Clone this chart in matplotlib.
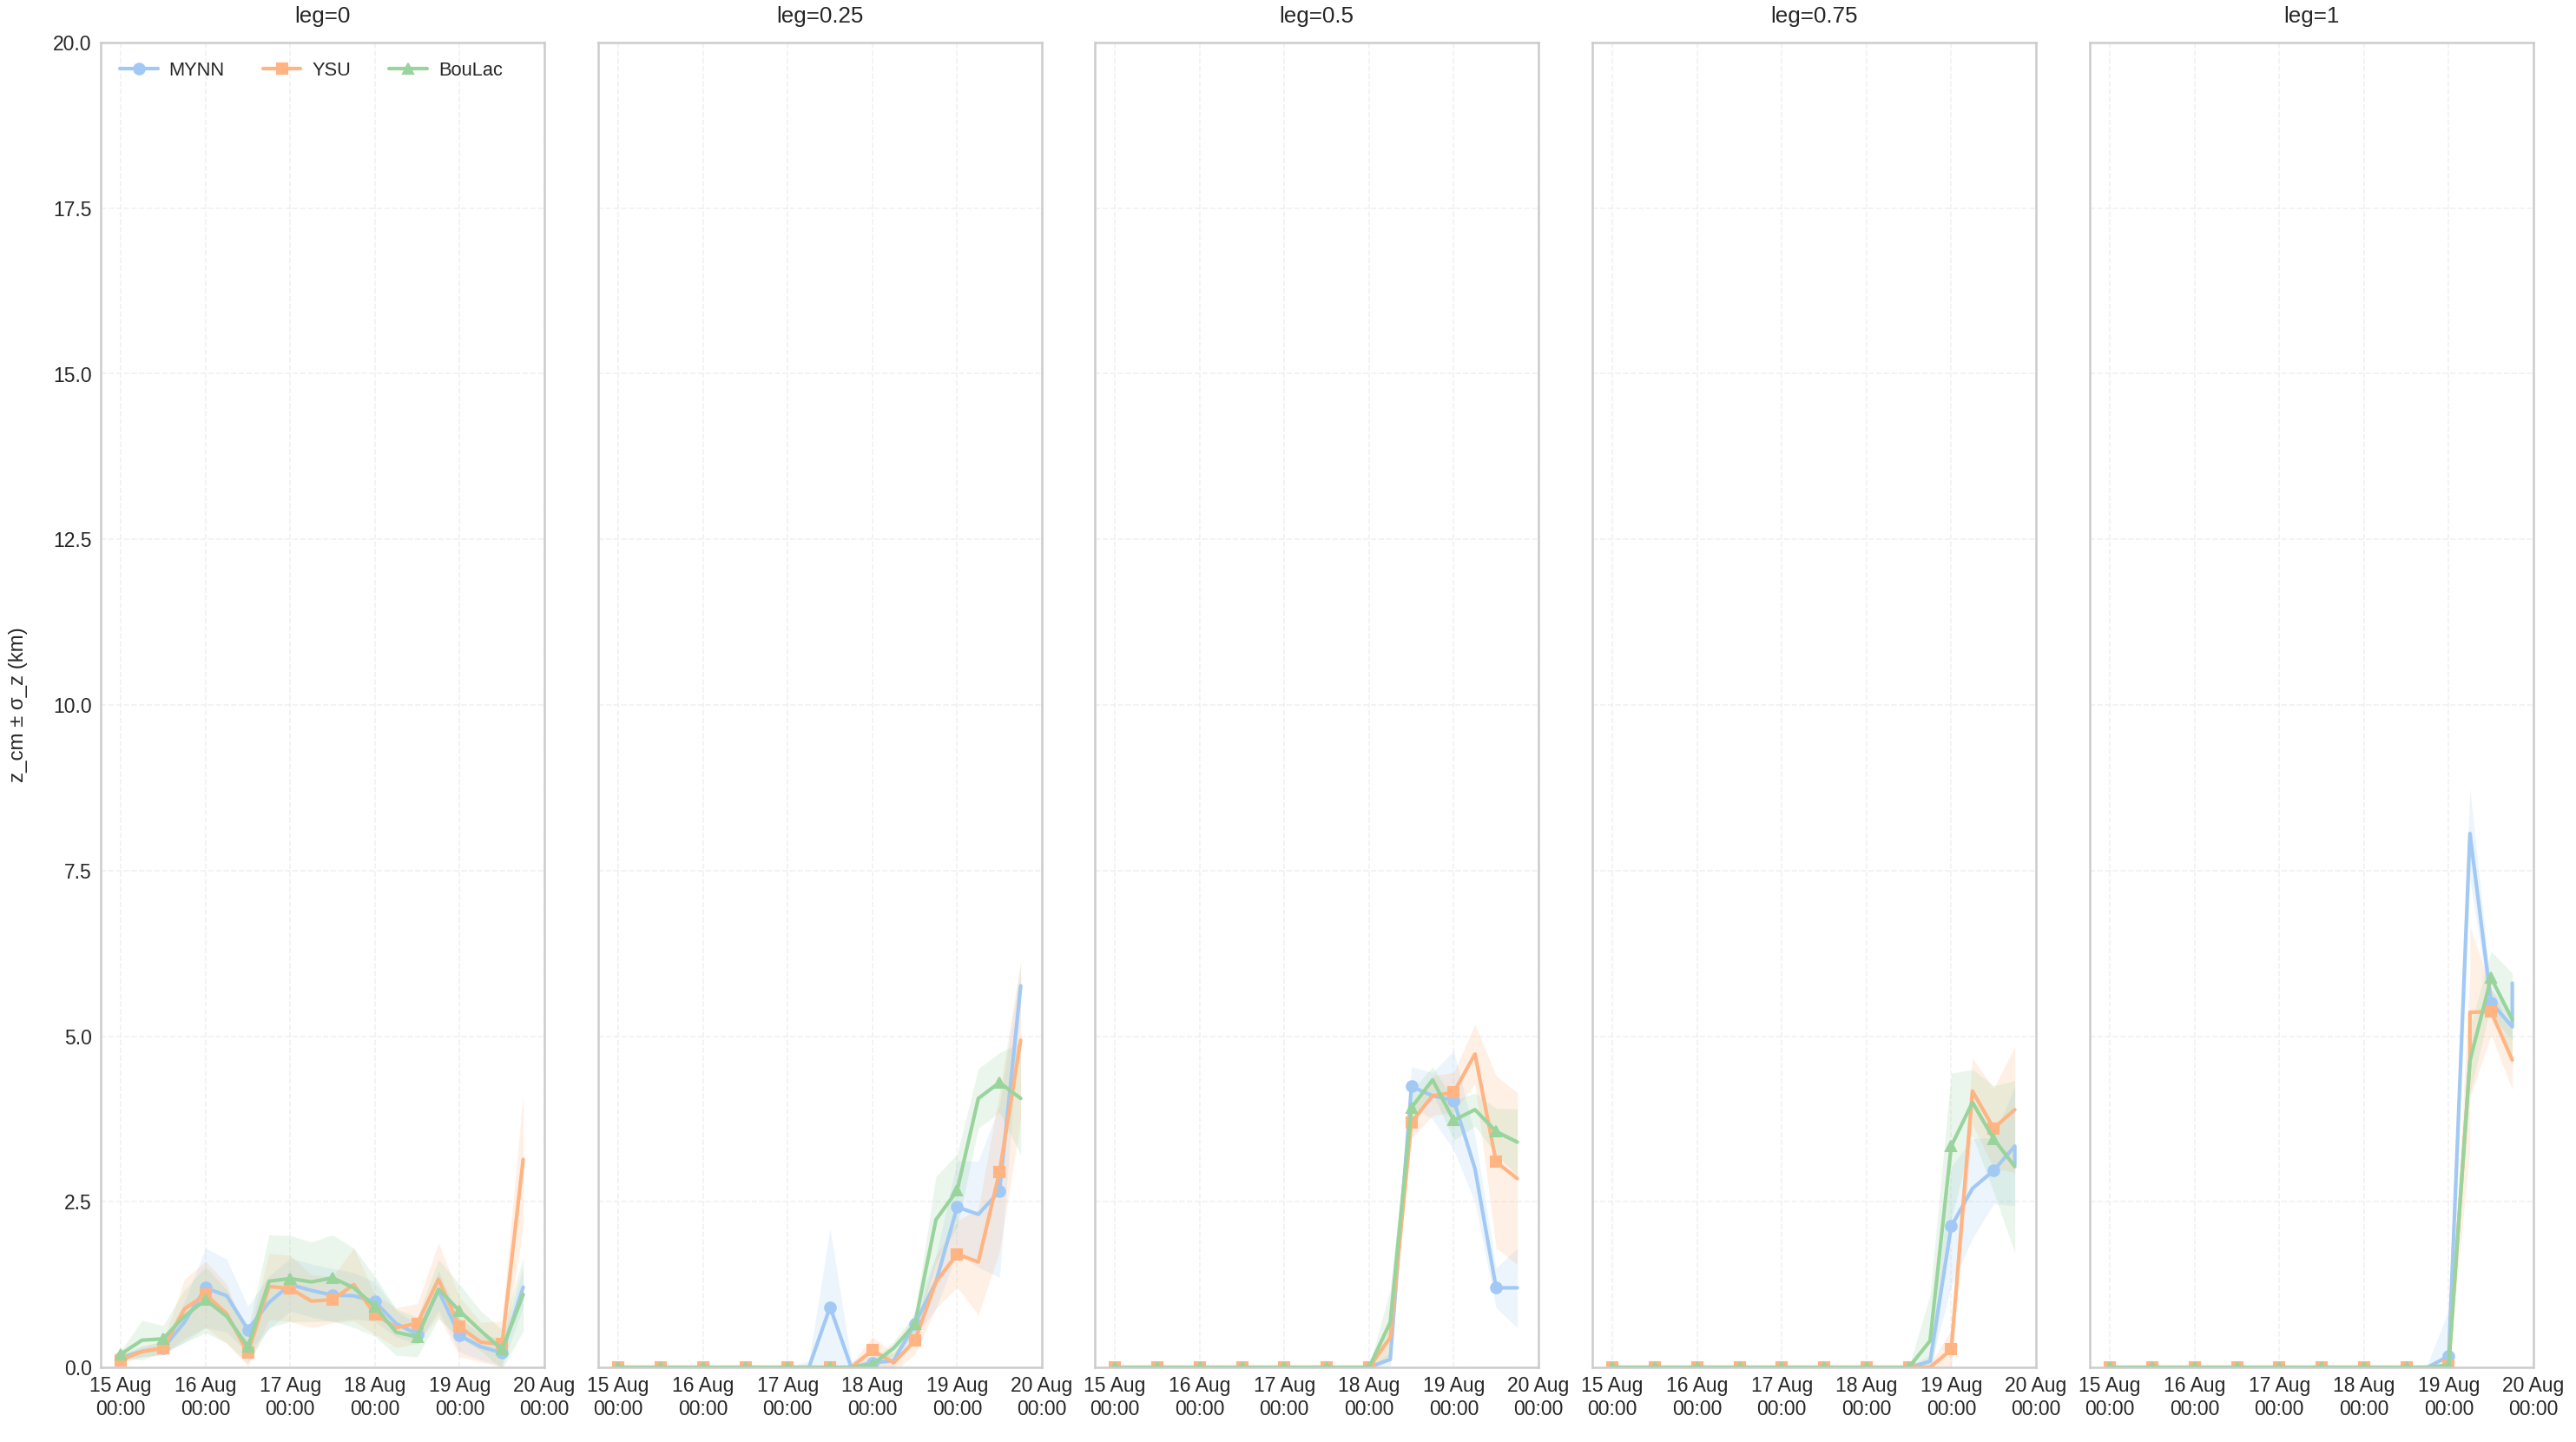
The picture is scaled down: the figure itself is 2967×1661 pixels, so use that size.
import numpy as np
import pandas as pd
import matplotlib
matplotlib.use("Agg")
import matplotlib.pyplot as plt
import matplotlib.dates as mdates
import seaborn as sns

sns.set_theme(style="whitegrid")
plt.rcParams['font.family'] = ['Liberation Sans', 'DejaVu Sans']

# ---------------- data ----------------
times = pd.date_range("2023-08-15 00:00", periods=20, freq="6h")
legs = ["leg=0", "leg=0.25", "leg=0.5", "leg=0.75", "leg=1"]
schemes = ["MYNN", "YSU", "BouLac"]

# leg=0
mynn_0 = [0.15, 0.24, 0.29, 0.68, 1.20, 1.08, 0.57, 0.98, 1.25, 1.16, 1.09, 1.08, 0.99, 0.66, 0.50, 1.16, 0.48, 0.31, 0.22, 1.21]
ysu_0 = [0.11, 0.24, 0.29, 0.88, 1.10, 0.81, 0.22, 1.22, 1.19, 1.00, 1.02, 1.25, 0.80, 0.60, 0.66, 1.33, 0.61, 0.38, 0.35, 3.14]
boulac_0 = [0.20, 0.41, 0.43, 0.77, 1.02, 0.77, 0.31, 1.30, 1.34, 1.29, 1.35, 1.20, 0.92, 0.53, 0.46, 1.18, 0.85, 0.55, 0.27, 1.10]
mynn_0_sd = [0.05, 0.08, 0.10, 0.30, 0.60, 0.55, 0.35, 0.40, 0.40, 0.40, 0.40, 0.35, 0.30, 0.20, 0.15, 0.30, 0.25, 0.20, 0.20, 0.30]
ysu_0_sd = [0.05, 0.08, 0.10, 0.45, 0.50, 0.45, 0.20, 0.50, 0.50, 0.40, 0.35, 0.55, 0.30, 0.30, 0.30, 0.55, 0.45, 0.30, 0.35, 1.00]
boulac_0_sd = [0.05, 0.30, 0.20, 0.40, 0.50, 0.40, 0.25, 0.70, 0.65, 0.60, 0.65, 0.60, 0.45, 0.35, 0.30, 0.45, 0.40, 0.30, 0.30, 0.55]

# leg=0.25
mynn_25 = [0, 0, 0, 0, 0, 0, 0, 0, 0, 0, 0.91, 0, 0.07, 0.10, 0.65, 1.29, 2.42, 2.31, 2.66, 5.76]
ysu_25 = [0, 0, 0, 0, 0, 0, 0, 0, 0, 0, 0, 0, 0.26, 0.07, 0.40, 1.29, 1.71, 1.59, 2.95, 4.94]
boulac_25 = [0, 0, 0, 0, 0, 0, 0, 0, 0, 0, 0, 0, 0.04, 0.29, 0.65, 2.23, 2.67, 4.06, 4.30, 4.06]
mynn_25_sd = [0, 0, 0, 0, 0, 0, 0, 0, 0, 0.10, 1.18, 0.10, 0.10, 0.10, 0.20, 0.40, 0.70, 0.80, 1.30, 0.30]
ysu_25_sd = [0, 0, 0, 0, 0, 0, 0, 0, 0, 0, 0, 0.05, 0.20, 0.15, 0.20, 0.40, 0.50, 0.80, 1.20, 1.20]
boulac_25_sd = [0, 0, 0, 0, 0, 0, 0, 0, 0, 0, 0, 0, 0.05, 0.10, 0.15, 0.65, 0.55, 0.45, 0.45, 0.85]

# leg=0.5
mynn_50 = [0, 0, 0, 0, 0, 0, 0, 0, 0, 0, 0, 0, 0, 0.12, 4.24, 4.10, 4.03, 3.00, 1.20, 1.20]
ysu_50 = [0, 0, 0, 0, 0, 0, 0, 0, 0, 0, 0, 0, 0, 0.45, 3.70, 4.10, 4.15, 4.73, 3.10, 2.85]
boulac_50 = [0, 0, 0, 0, 0, 0, 0, 0, 0, 0, 0, 0, 0, 0.68, 3.92, 4.34, 3.73, 3.89, 3.56, 3.40]
mynn_50_sd = [0, 0, 0, 0, 0, 0, 0, 0, 0, 0, 0, 0, 0, 0.10, 0.30, 0.35, 0.75, 0.50, 0.30, 0.60]
ysu_50_sd = [0, 0, 0, 0, 0, 0, 0, 0, 0, 0, 0, 0, 0, 0.30, 0.25, 0.30, 0.30, 0.45, 1.30, 1.30]
boulac_50_sd = [0, 0, 0, 0, 0, 0, 0, 0, 0, 0, 0, 0, 0, 0.50, 0.25, 0.20, 0.30, 0.25, 0.35, 0.50]

# leg=0.75
mynn_75 = [0, 0, 0, 0, 0, 0, 0, 0, 0, 0, 0, 0, 0, 0, 0, 0.09, 2.13, 2.70, 2.97, 3.34]
ysu_75 = [0, 0, 0, 0, 0, 0, 0, 0, 0, 0, 0, 0, 0, 0, 0, 0, 0.27, 4.17, 3.61, 3.89]
boulac_75 = [0, 0, 0, 0, 0, 0, 0, 0, 0, 0, 0, 0, 0, 0, 0, 0.40, 3.34, 4.00, 3.45, 3.03]
mynn_75_sd = [0, 0, 0, 0, 0, 0, 0, 0, 0, 0, 0, 0, 0, 0, 0, 0.10, 0.90, 0.75, 0.50, 0.90]
ysu_75_sd = [0, 0, 0, 0, 0, 0, 0, 0, 0, 0, 0, 0, 0, 0, 0, 0.05, 0.30, 0.50, 0.60, 0.95]
boulac_75_sd = [0, 0, 0, 0, 0, 0, 0, 0, 0, 0, 0, 0, 0, 0, 0, 0.70, 1.10, 0.50, 0.80, 1.30]

# leg=1
mynn_100 = [0, 0, 0, 0, 0, 0, 0, 0, 0, 0, 0, 0, 0, 0, 0, 0, 0.17, 8.06, 5.51, 5.14]
ysu_100 = [0, 0, 0, 0, 0, 0, 0, 0, 0, 0, 0, 0, 0, 0, 0, 0, 0.03, 4.63, 5.37, 4.64]
boulac_100 = [0, 0, 0, 0, 0, 0, 0, 0, 0, 0, 0, 0, 0, 0, 0, 0, 0.03, 4.63, 5.88, 5.25]
mynn_100_sd = [0, 0, 0, 0, 0, 0, 0, 0, 0, 0, 0, 0, 0, 0, 0, 0.05, 0.70, 0.68, 0.20, 0.20]
ysu_100_sd = [0, 0, 0, 0, 0, 0, 0, 0, 0, 0, 0, 0, 0, 0, 0, 0, 0.05, 1.30, 0.35, 0.45]
boulac_100_sd = [0, 0, 0, 0, 0, 0, 0, 0, 0, 0, 0, 0, 0, 0, 0, 0, 0.05, 0.50, 0.40, 0.70]

# repeated-time samples: (leg index, scheme, time index, value, sigma)
dup_leg = [3, 4, 4]
dup_scheme = ["MYNN", "YSU", "MYNN"]
dup_index = [19, 17, 19]
dup_value = [3.06, 5.36, 5.80]
dup_sigma = [0.60, 1.30, 1.20]

means = {
    "leg=0": [mynn_0, ysu_0, boulac_0],
    "leg=0.25": [mynn_25, ysu_25, boulac_25],
    "leg=0.5": [mynn_50, ysu_50, boulac_50],
    "leg=0.75": [mynn_75, ysu_75, boulac_75],
    "leg=1": [mynn_100, ysu_100, boulac_100],
}
sigmas = {
    "leg=0": [mynn_0_sd, ysu_0_sd, boulac_0_sd],
    "leg=0.25": [mynn_25_sd, ysu_25_sd, boulac_25_sd],
    "leg=0.5": [mynn_50_sd, ysu_50_sd, boulac_50_sd],
    "leg=0.75": [mynn_75_sd, ysu_75_sd, boulac_75_sd],
    "leg=1": [mynn_100_sd, ysu_100_sd, boulac_100_sd],
}

# ---------------- plot ----------------
colors = ["#a1c9f4", "#ffb482", "#98d49c"]
markers = ["o", "s", "^"]

W, H = 2967, 1661
dpi = 150
fig = plt.figure(figsize=(W / dpi, H / dpi), dpi=dpi)
lefts = [116, 689, 1261, 1834, 2407]
ax_w, ax_bot, ax_top = 511, 1575, 49

x_left = times[0] - pd.Timedelta(hours=5.7)
x_right = pd.Timestamp("2023-08-20 00:00")

axes = []
for p, leg in enumerate(legs):
    rect = [lefts[p] / W, (H - ax_bot) / H, ax_w / W, (ax_bot - ax_top) / H]
    ax = fig.add_axes(rect, sharey=axes[0] if axes else None)
    axes.append(ax)
    for k, sch in enumerate(schemes):
        t = list(times)
        m = list(means[leg][k])
        s = list(sigmas[leg][k])
        for dl, ds, di, dv, dsg in zip(dup_leg, dup_scheme, dup_index, dup_value, dup_sigma):
            if dl == p and ds == sch:
                t.insert(di + 1, times[di])
                m.insert(di + 1, dv)
                s.insert(di + 1, dsg)
        t = np.array(t)
        m = np.array(m)
        s = np.array(s)
        seen = set()
        mk = []
        for i in range(len(t)):
            if ((t[i] - times[0]) / pd.Timedelta("12h")) % 1 == 0 and t[i] not in seen:
                seen.add(t[i])
                mk.append(i)
        ax.fill_between(t, m - s, m + s, color=colors[k], alpha=0.2, lw=0)
        ax.plot(t, m, color=colors[k], lw=2.0, marker=markers[k], markersize=6,
                markevery=mk, label=sch)
    ax.set_title(leg, fontsize=12.5, color="#262626", pad=11)
    ax.set_ylim(0, 20)
    ax.set_xlim(x_left, x_right)
    ax.set_yticks(np.arange(0, 20.01, 2.5))
    ax.xaxis.set_major_locator(mdates.DayLocator())
    ax.xaxis.set_major_formatter(mdates.DateFormatter("%d %b\n%H:%M"))
    ax.tick_params(axis="both", labelsize=11, colors="#262626", length=0, pad=5)
    ax.grid(True, linestyle="--", color="#e6e6e6", lw=0.8, alpha=0.55)
    for sp in ax.spines.values():
        sp.set_color("#cccccc")
        sp.set_linewidth(1.2)
    if p > 0:
        plt.setp(ax.get_yticklabels(), visible=False)

axes[0].set_ylabel("z_cm ± σ_z (km)", fontsize=11.5, color="#262626", labelpad=14)
axes[0].legend(loc="upper left", ncol=3, frameon=False, fontsize=10.5,
               handlelength=2.0, handletextpad=0.6, columnspacing=2.0,
               borderaxespad=0.6)

fig.savefig("out.png", dpi=dpi)
